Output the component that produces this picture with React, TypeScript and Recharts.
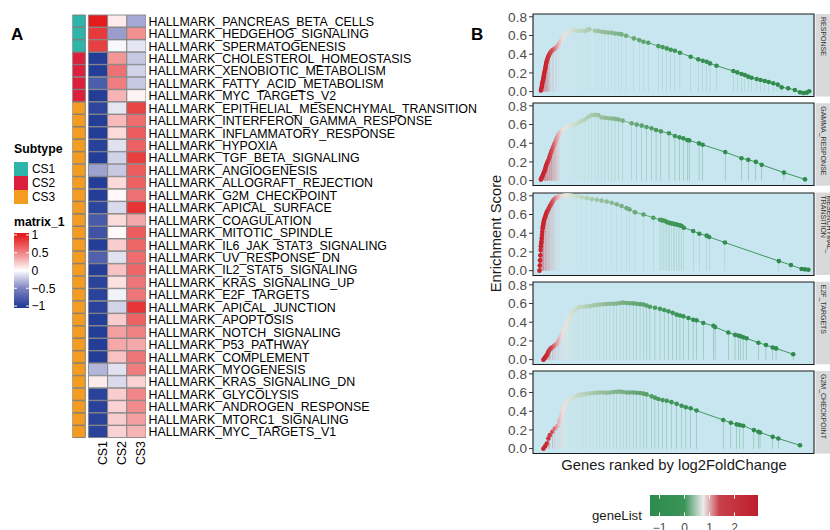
import React from 'react';
import {
  BarChart, Bar, XAxis, YAxis, Cell, ComposedChart, Line, CartesianGrid, ReferenceArea,
} from 'recharts';

const FONT = '"Liberation Sans", Arial, Helvetica, sans-serif';

// ---------------- Panel A data ----------------
const pathways = [
  'HALLMARK_PANCREAS_BETA_CELLS', 'HALLMARK_HEDGEHOG_SIGNALING', 'HALLMARK_SPERMATOGENESIS',
  'HALLMARK_CHOLESTEROL_HOMEOSTASIS', 'HALLMARK_XENOBIOTIC_METABOLISM', 'HALLMARK_FATTY_ACID_METABOLISM',
  'HALLMARK_MYC_TARGETS_V2', 'HALLMARK_EPITHELIAL_MESENCHYMAL_TRANSITION', 'HALLMARK_INTERFERON_GAMMA_RESPONSE',
  'HALLMARK_INFLAMMATORY_RESPONSE', 'HALLMARK_HYPOXIA', 'HALLMARK_TGF_BETA_SIGNALING', 'HALLMARK_ANGIOGENESIS',
  'HALLMARK_ALLOGRAFT_REJECTION', 'HALLMARK_G2M_CHECKPOINT', 'HALLMARK_APICAL_SURFACE', 'HALLMARK_COAGULATION',
  'HALLMARK_MITOTIC_SPINDLE', 'HALLMARK_IL6_JAK_STAT3_SIGNALING', 'HALLMARK_UV_RESPONSE_DN',
  'HALLMARK_IL2_STAT5_SIGNALING', 'HALLMARK_KRAS_SIGNALING_UP', 'HALLMARK_E2F_TARGETS',
  'HALLMARK_APICAL_JUNCTION', 'HALLMARK_APOPTOSIS', 'HALLMARK_NOTCH_SIGNALING', 'HALLMARK_P53_PATHWAY',
  'HALLMARK_COMPLEMENT', 'HALLMARK_MYOGENESIS', 'HALLMARK_KRAS_SIGNALING_DN', 'HALLMARK_GLYCOLYSIS',
  'HALLMARK_ANDROGEN_RESPONSE', 'HALLMARK_MTORC1_SIGNALING', 'HALLMARK_MYC_TARGETS_V1',
];
const subtypeOfPathway = [
  'CS1', 'CS1', 'CS1', 'CS2', 'CS2', 'CS2', 'CS2',
  'CS3', 'CS3', 'CS3', 'CS3', 'CS3', 'CS3', 'CS3', 'CS3', 'CS3', 'CS3', 'CS3', 'CS3', 'CS3',
  'CS3', 'CS3', 'CS3', 'CS3', 'CS3', 'CS3', 'CS3', 'CS3', 'CS3', 'CS3', 'CS3', 'CS3', 'CS3', 'CS3',
];
const scoreCS1 = [1.0, 0.85, 0.82, -1, -1, -0.78, -1, -0.95, -1, -1, -0.98, -1, -0.38, -1, -1, -0.95, -0.8,
  -0.85, -1, -0.75, -1, -0.97, -0.97, -0.97, -1, -1, -1, -1, -0.3, 0.08, -0.97, -0.97, -0.97, -0.97];
const scoreCS2 = [0.08, -0.4, -0.03, 0.42, 0.58, 0.52, 0.3, -0.1, 0.28, 0.15, -0.12, -0.18, -0.22, 0.15, 0.03,
  -0.15, 0.15, 0.02, 0.2, -0.12, 0.25, 0.12, -0.05, -0.18, 0.2, 0.38, 0.35, 0.25, -0.12, -0.15, 0.2, 0.18, 0.2, 0.18];
const scoreCS3 = [-0.35, 0.45, -0.1, -0.22, -0.18, -0.22, 0.05, 0.8, 0.6, 0.68, 0.66, 0.82, 0.68, 0.66, 0.58,
  0.88, 0.35, 0.68, 0.63, 0.6, 0.63, 0.56, 0.56, 0.88, 0.66, 0.5, 0.35, 0.56, 0.53, 0.18, 0.48, 0.46, 0.38, 0.3];
const heatColumns = ['CS1', 'CS2', 'CS3'];
const subtypeNames = ['CS1', 'CS2', 'CS3'];
const subtypeColors: Record<string, string> = { CS1: '#2DB5A9', CS2: '#DC1F3C', CS3: '#F49C22' };
const matrixTicks = [1, 0.5, 0, -0.5, -1];

// ---------------- Panel B data (rank per mille, running enrichment score) ----------------
const inflammRank = [28, 29, 31, 32, 33, 34, 36, 37, 38, 39, 40, 41, 43, 44, 45, 46, 47, 48, 50, 51, 53, 55,
  57, 60, 64, 69, 74, 79, 85, 91, 96,
  101, 106, 110, 115, 121, 127, 134, 141, 149, 158, 167, 177, 186, 193, 200, 221, 232, 244, 256, 268,
  280, 292, 304, 315, 331, 359, 378, 393, 410, 446, 461, 476, 490, 505, 523, 561, 588, 604, 618, 630,
  653, 713, 727, 742, 754, 766, 778, 796, 810, 825, 839, 855, 871, 885, 908, 932, 950, 962, 974, 983];
const inflammES = [0.011, 0.03, 0.046, 0.068, 0.089, 0.106, 0.124, 0.142, 0.16, 0.178, 0.196, 0.213, 0.231,
  0.249, 0.267, 0.285, 0.302, 0.316, 0.331, 0.347, 0.363, 0.377, 0.391, 0.409,
  0.427, 0.441, 0.452, 0.462, 0.48, 0.505, 0.526, 0.551, 0.576, 0.597, 0.619, 0.629, 0.64, 0.647, 0.654,
  0.658, 0.651, 0.651, 0.651, 0.647, 0.66, 0.668, 0.651, 0.647, 0.64, 0.636, 0.633, 0.629, 0.622, 0.619,
  0.612, 0.597, 0.569, 0.551, 0.533, 0.523, 0.487, 0.476, 0.462, 0.448, 0.437, 0.416, 0.373, 0.345, 0.331,
  0.32, 0.302, 0.277, 0.22, 0.206, 0.188, 0.178, 0.16, 0.149, 0.135, 0.124, 0.114, 0.103, 0.089, 0.075,
  0.046, 0.036, 0.018, -0.007, -0.014, -0.011, 0.004];

const ifngRank = [28, 30, 32, 35, 37, 40, 42, 44, 46, 48, 51, 53, 56, 58, 60, 62, 65, 67, 70, 72, 75, 77,
  80, 82, 84, 86, 89, 91, 94, 101, 108, 116, 126, 134,
  144, 153, 163, 173, 185, 197, 209, 221, 232, 244, 256, 268, 280, 292, 304, 319, 351, 369, 387, 404,
  422, 438, 455, 484, 505, 521, 535, 549, 556, 591, 604, 684, 742, 766, 793, 814, 893, 968];
const ifngES = [0.011, 0.025, 0.039, 0.057, 0.075, 0.093, 0.111, 0.132, 0.154, 0.172, 0.19, 0.208, 0.226,
  0.244, 0.262, 0.284, 0.305, 0.323, 0.341, 0.359, 0.377, 0.395, 0.413, 0.427, 0.441, 0.459,
  0.477, 0.49, 0.506, 0.527, 0.549, 0.567, 0.585, 0.592, 0.596, 0.603, 0.621, 0.639, 0.656, 0.682, 0.7, 0.703,
  0.7, 0.676, 0.671, 0.667, 0.664, 0.66, 0.653, 0.642, 0.613, 0.599, 0.588, 0.574, 0.56, 0.542, 0.527,
  0.506, 0.477, 0.463, 0.452, 0.434, 0.43, 0.398, 0.384, 0.305, 0.24, 0.222, 0.201, 0.169, 0.086, 0.014];

const emtRank = [23, 24, 25, 26, 27, 28, 29, 30, 31, 32, 33, 34, 35, 36, 37, 38, 39, 41, 43, 44, 46, 48,
  50, 52, 55, 57, 60, 63, 66, 69, 72, 77, 82,
  87, 91, 96, 102, 108, 114, 120, 126, 132, 138, 155, 173, 191, 209, 227, 244, 262, 280, 298, 315,
  333, 343, 363, 393, 428, 452, 458, 464, 470, 476, 482, 487, 493, 499, 505, 511, 517, 523, 529, 537,
  570, 592, 618, 627, 683, 875, 918, 956, 968, 980];
const emtES = [0, 0.055, 0.11, 0.165, 0.22, 0.26, 0.29, 0.31, 0.345, 0.38, 0.415, 0.45, 0.47, 0.485, 0.5,
  0.52, 0.535, 0.555, 0.57, 0.58, 0.6, 0.615, 0.63, 0.64, 0.655, 0.67, 0.69, 0.7, 0.72,
  0.73, 0.75, 0.765, 0.78, 0.785, 0.79, 0.795, 0.798, 0.8, 0.803, 0.805, 0.803, 0.802, 0.8, 0.795, 0.785,
  0.775, 0.765, 0.757, 0.748, 0.739, 0.725, 0.71, 0.69, 0.668, 0.655, 0.625, 0.6, 0.565, 0.544, 0.54,
  0.535, 0.53, 0.519, 0.515, 0.51, 0.505, 0.501, 0.497, 0.493, 0.488, 0.484, 0.478, 0.459, 0.424, 0.395,
  0.374, 0.36, 0.3, 0.102, 0.06, 0.018, 0.014, 0.01];

const e2fRank = [37, 40, 43, 46, 49, 52, 55, 58, 63, 69, 75, 81, 87, 91, 96, 101, 106, 110, 112, 114, 117, 119,
  122, 124, 127, 130, 132, 135, 138, 144, 151, 159, 167, 179, 191, 203, 215, 227, 238, 250, 262, 274, 286, 298, 310,
  321, 333, 345, 357, 369, 381, 393, 404, 416, 434, 452, 467, 482, 497, 511, 523, 535, 553, 570, 582,
  606, 642, 648, 695, 719, 731, 739, 748, 760, 802, 829, 853, 865, 926];
const e2fES = [0, 0.01, 0.022, 0.035, 0.047, 0.065, 0.083, 0.1, 0.12, 0.133, 0.145, 0.16, 0.174, 0.2, 0.228,
  0.26, 0.29, 0.325, 0.34, 0.355, 0.373, 0.39, 0.4, 0.415, 0.43, 0.45, 0.47, 0.485, 0.5, 0.52, 0.54, 0.555,
  0.561, 0.566, 0.57, 0.572, 0.58,
  0.585, 0.59, 0.592, 0.595, 0.597, 0.598, 0.6, 0.605, 0.609, 0.606, 0.603, 0.601, 0.597, 0.593, 0.59,
  0.578, 0.565, 0.555, 0.543, 0.53, 0.517, 0.5, 0.481, 0.472, 0.463, 0.445, 0.427, 0.42, 0.391, 0.362,
  0.348, 0.29, 0.265, 0.257, 0.25, 0.239, 0.228, 0.181, 0.156, 0.13, 0.12, 0.058];

const g2mRank = [37, 43, 49, 55, 60, 69, 78, 87, 94, 97, 100, 103, 106, 108, 110, 113, 116, 126, 138, 146, 155,
  164, 173, 181, 191, 203, 215, 227, 238, 250, 262, 274, 286, 298, 310, 321, 333, 345, 357, 369, 381, 393, 404, 422,
  434, 446, 461, 476, 493, 511, 529, 544, 561, 582, 677, 704, 725, 736, 748, 786, 802, 808, 853, 873, 950];
const g2mES = [0, 0.025, 0.054, 0.108, 0.144, 0.18, 0.216, 0.241, 0.288, 0.315, 0.342, 0.37, 0.396, 0.42,
  0.443, 0.465, 0.486, 0.523,
  0.54, 0.552, 0.566, 0.572, 0.577, 0.582, 0.587, 0.591, 0.595, 0.598, 0.6, 0.6, 0.598, 0.6, 0.605, 0.607,
  0.609, 0.605, 0.6, 0.6, 0.6, 0.598, 0.595, 0.588, 0.58, 0.559, 0.545, 0.53, 0.519, 0.512, 0.497, 0.479,
  0.458, 0.443, 0.432, 0.407, 0.306, 0.277, 0.259, 0.252, 0.245, 0.198, 0.18, 0.173, 0.126, 0.108, 0.036];

const stripLines = [['RESPONSE'], ['GAMMA_RESPONSE'], ['TRANSITION', 'MESENCHYMAL_'], ['E2F_TARGETS'], ['G2M_CHECKPOINT']];
const esTicks = [0, 0.2, 0.4, 0.6, 0.8];
const geneListTicks = [-1, 0, 1, 2];

// ---------------- styles / colour scales ----------------
const heatStops: [number, number[]][] = [
  [-1, [36, 62, 152]], [-0.5, [128, 132, 192]], [0, [255, 255, 255]], [0.5, [240, 130, 132]], [1, [228, 26, 28]],
];
function heatColor(v: number) {
  const x = Math.max(-1, Math.min(1, v));
  for (let i = 0; i < heatStops.length - 1; i++) {
    const [a, ca] = heatStops[i];
    const [b, cb] = heatStops[i + 1];
    if (x <= b) {
      const t = (x - a) / (b - a);
      const c = ca.map((k, j) => Math.round(k + (cb[j] - k) * t));
      return `rgb(${c[0]},${c[1]},${c[2]})`;
    }
  }
  return 'rgb(228,26,28)';
}
// colour of the ranked gene list along the rank axis (0..1000)
const rankColorStops: [number, string][] = [
  [0, '#C41E2C'], [46, '#C9252F'], [68, '#D24C55'], [85, '#E2A0A4'], [103, '#ECDCDA'], [121, '#E0E6DE'],
  [160, '#C2D8C2'], [238, '#98C19E'], [327, '#74AD80'], [434, '#4C9C61'], [559, '#358F50'], [1000, '#2D8A4B'],
];
const geneListStops: [number, string][] = [
  [-1.38, '#2E8B4E'], [0.0, '#3B9459'], [0.75, '#EDEDED'], [1.4, '#C8404A'], [2.94, '#BE1E2D'],
];

const ANN_W = 0.68;
const GAP_W = 0.16;
const HEAT_TOTAL = ANN_W + GAP_W + heatColumns.length;
const colTicks = heatColumns.map((_, c) => ANN_W + GAP_W + c + 0.5);

const heatRows = pathways.map((name, i) => ({
  name,
  subtype: subtypeOfPathway[i],
  scores: [scoreCS1[i], scoreCS2[i], scoreCS3[i]],
  annW: ANN_W,
  gapW: GAP_W,
  w0: 1,
  w1: 1,
  w2: 1,
}));

function Heatmap() {
  return (
    <div style={{ position: 'absolute', left: 0, top: 0 }}>
      <BarChart
        layout="vertical"
        width={495}
        height={470}
        data={heatRows}
        margin={{ top: 15, right: 19, bottom: 2, left: 72.3 }}
        barCategoryGap={0}
        barGap={0}
      >
        <XAxis
          type="number"
          domain={[0, HEAT_TOTAL]}
          allowDataOverflow
          ticks={colTicks}
          interval={0}
          tickFormatter={(v: number) => heatColumns[Math.round(v - ANN_W - GAP_W - 0.5)] ?? ''}
          angle={-90}
          textAnchor="end"
          tickLine={false}
          axisLine={false}
          tickSize={0}
          tickMargin={3}
          height={30}
          tick={{ fontSize: 12.4, fill: '#000', fontFamily: FONT, textAnchor: 'end' }}
        />
        <YAxis
          type="category"
          dataKey="name"
          orientation="right"
          width={330}
          interval={0}
          tickLine={false}
          axisLine={false}
          tickSize={0}
          tickMargin={2.5}
          tick={{ fontSize: 12.4, fill: '#000', fontFamily: FONT }}
        />
        <Bar dataKey="annW" stackId="hm" stroke="#7A7A7A" strokeWidth={0.9} isAnimationActive={false}>
          {heatRows.map((r, i) => <Cell key={i} fill={subtypeColors[r.subtype]} />)}
        </Bar>
        <Bar dataKey="gapW" stackId="hm" fill="none" stroke="none" isAnimationActive={false} />
        {heatColumns.map((col, c) => (
          <Bar key={col} dataKey={`w${c}`} stackId="hm" stroke="#858585" strokeWidth={0.9} isAnimationActive={false}>
            {heatRows.map((r, i) => <Cell key={i} fill={heatColor(r.scores[c])} />)}
          </Bar>
        ))}
      </BarChart>
    </div>
  );
}

const PANEL_TOP0 = 14;
const PANEL_STEP = 89.25;
const PANEL_H = 82.5;
const PANEL_PAD = 9;
const ES_DOMAIN: [number, number] = [-0.052, 0.83];
const RANK_DOMAIN: [number, number] = [0, 1000];
const G_LEFT = 465;
const G_W = 350;
const G_YW = 68;
const G_MR = 1;

function GseaPanel({ idx, rank, es }: { idx: number; rank: number[]; es: number[] }) {
  const data = rank.map((r, i) => ({ rank: r, es: es[i] }));
  const gid = `gsea-grad-${idx}`;
  const x1 = G_YW;
  const x2 = G_W - G_MR;
  const renderDot = (p: any) => {
    if (p.cx == null || p.cy == null) return <g key={`d-${p.index}`} />;
    return <circle key={`d-${p.index}`} cx={p.cx} cy={p.cy} r={2.3} fill={`url(#${gid})`} />;
  };
  return (
    <div style={{ position: 'absolute', left: G_LEFT, top: PANEL_TOP0 + idx * PANEL_STEP - PANEL_PAD }}>
      <ComposedChart
        width={G_W}
        height={PANEL_H + 2 * PANEL_PAD}
        data={data}
        margin={{ top: PANEL_PAD, right: G_MR, bottom: PANEL_PAD, left: 0 }}
      >
        <defs>
          <linearGradient id={gid} gradientUnits="userSpaceOnUse" x1={x1} y1={0} x2={x2} y2={0}>
            {rankColorStops.map(([r, c], i) => (
              <stop key={i} offset={(r - RANK_DOMAIN[0]) / (RANK_DOMAIN[1] - RANK_DOMAIN[0])} stopColor={c} />
            ))}
          </linearGradient>
        </defs>
        <CartesianGrid horizontal={false} vertical={false} fill="#C8E6EF" fillOpacity={1} stroke="none" />
        <XAxis type="number" dataKey="rank" domain={RANK_DOMAIN} hide allowDataOverflow />
        <YAxis
          type="number"
          domain={ES_DOMAIN}
          allowDataOverflow
          ticks={esTicks}
          interval={0}
          width={G_YW}
          tickFormatter={(v: number) => v.toFixed(1)}
          axisLine={false}
          tickSize={4}
          tickMargin={2}
          tickLine={{ stroke: '#333', strokeWidth: 1 }}
          tick={{ fontSize: 13.6, fill: '#4D4D4D', fontFamily: FONT }}
        />
        <Bar dataKey="es" barSize={1.1} fill={`url(#${gid})`} fillOpacity={0.55} isAnimationActive={false} />
        <Line
          dataKey="es"
          type="linear"
          stroke={`url(#${gid})`}
          strokeWidth={0.9}
          dot={renderDot}
          activeDot={false}
          isAnimationActive={false}
        />
        <ReferenceArea
          x1={RANK_DOMAIN[0]}
          x2={RANK_DOMAIN[1]}
          y1={ES_DOMAIN[0]}
          y2={ES_DOMAIN[1]}
          fill="none"
          stroke="#1A1A1A"
          strokeWidth={1.1}
          ifOverflow="visible"
        />
      </ComposedChart>
    </div>
  );
}

const gseaSeries = [
  { rank: inflammRank, es: inflammES },
  { rank: ifngRank, es: ifngES },
  { rank: emtRank, es: emtES },
  { rank: e2fRank, es: e2fES },
  { rank: g2mRank, es: g2mES },
];

function Overlay() {
  // matrix_1 colour bar geometry
  const mbTop = 233;
  const mbH = 75;
  const mY = (v: number) => 270.5 - 35.5 * v;
  const mStops = [1, 0.5, 0, -0.5, -1];
  // geneList colour bar geometry
  const gx = (v: number) => 684.5 + 25 * v;
  const gbL = 650;
  const gbR = 758;
  const gvL = (gbL - 684.5) / 25;
  const gvR = (gbR - 684.5) / 25;
  return (
    <svg
      width={830}
      height={530}
      style={{ position: 'absolute', left: 0, top: 0, pointerEvents: 'none' }}
      fontFamily={FONT}
    >
      <defs>
        <linearGradient id="matrixGrad" x1="0" y1="0" x2="0" y2="1">
          <stop offset={0} stopColor={heatColor(1)} />
          {mStops.map((v, i) => (
            <stop key={i} offset={(mY(v) - mbTop) / mbH} stopColor={heatColor(v)} />
          ))}
          <stop offset={1} stopColor={heatColor(-1)} />
        </linearGradient>
        <linearGradient id="geneListGrad" x1="0" y1="0" x2="1" y2="0">
          {geneListStops.map(([v, c], i) => (
            <stop key={i} offset={(v - gvL) / (gvR - gvL)} stopColor={c} />
          ))}
        </linearGradient>
      </defs>

      <text x={11} y={39.5} fontSize={17} fontWeight="bold" fill="#000">A</text>
      <text x={471} y={39.5} fontSize={17} fontWeight="bold" fill="#000">B</text>

      {/* Subtype legend */}
      <text x={14} y={153.4} fontSize={12.3} fontWeight="bold" fill="#000">Subtype</text>
      {subtypeNames.map((s, i) => (
        <g key={s}>
          <rect x={14} y={162 + 14 * i} width={14} height={14} fill={subtypeColors[s]} />
          <text x={32} y={173.3 + 14 * i} fontSize={11.9} fill="#000">{s}</text>
        </g>
      ))}

      {/* matrix_1 legend */}
      <text x={14} y={226.4} fontSize={12.3} fontWeight="bold" fill="#000">matrix_1</text>
      <rect x={14} y={mbTop} width={15} height={mbH} fill="url(#matrixGrad)" />
      {matrixTicks.map((v) => (
        <g key={v}>
          <line x1={14} x2={17} y1={mY(v)} y2={mY(v)} stroke="#fff" strokeWidth={1} />
          <line x1={26} x2={29} y1={mY(v)} y2={mY(v)} stroke="#fff" strokeWidth={1} />
          <text x={31.5} y={mY(v) + 4.3} fontSize={12.2} fill="#000">
            {v < 0 ? `\u2212${Math.abs(v)}` : `${v}`}
          </text>
        </g>
      ))}

      {/* facet strips */}
      {stripLines.map((lines, i) => {
        const top = PANEL_TOP0 + i * PANEL_STEP;
        return (
          <g key={i}>
            <rect x={815.5} y={top} width={20} height={PANEL_H} fill="#D9D9D9" />
            {lines.map((t, j) => {
              const bx = 821.3 + j * 5.8;
              const by = top + 3;
              return (
                <text key={j} x={bx} y={by} fontSize={7} fill="#333" transform={`rotate(90 ${bx} ${by})`}>
                  {t}
                </text>
              );
            })}
          </g>
        );
      })}

      {/* axis titles */}
      <text
        x={501}
        y={233.5}
        fontSize={14.8}
        fill="#1A1A1A"
        textAnchor="middle"
        transform="rotate(-90 501 233.5)"
      >
        Enrichment Score
      </text>
      <text x={674} y={469.5} fontSize={14.8} fill="#1A1A1A" textAnchor="middle">
        Genes ranked by log2FoldChange
      </text>

      {/* geneList legend */}
      <text x={592} y={519.5} fontSize={13.2} fill="#1A1A1A">geneList</text>
      <rect x={gbL} y={495} width={gbR - gbL} height={21} fill="url(#geneListGrad)" />
      {geneListTicks.map((v) => (
        <g key={v}>
          <line x1={gx(v)} x2={gx(v)} y1={495} y2={498.5} stroke="#fff" strokeWidth={1} />
          <line x1={gx(v)} x2={gx(v)} y1={512.5} y2={516} stroke="#fff" strokeWidth={1} />
          <text x={gx(v)} y={532} fontSize={12} fill="#4D4D4D" textAnchor="middle">
            {v < 0 ? `\u2212${Math.abs(v)}` : `${v}`}
          </text>
        </g>
      ))}
    </svg>
  );
}

export default function App() {
  return (
    <div
      style={{
        position: 'absolute',
        left: 0,
        top: 0,
        width: 830,
        height: 530,
        overflow: 'hidden',
        background: '#fff',
        fontFamily: FONT,
      }}
    >
      <Heatmap />
      {gseaSeries.map((s, i) => (
        <GseaPanel key={i} idx={i} rank={s.rank} es={s.es} />
      ))}
      <Overlay />
    </div>
  );
}
